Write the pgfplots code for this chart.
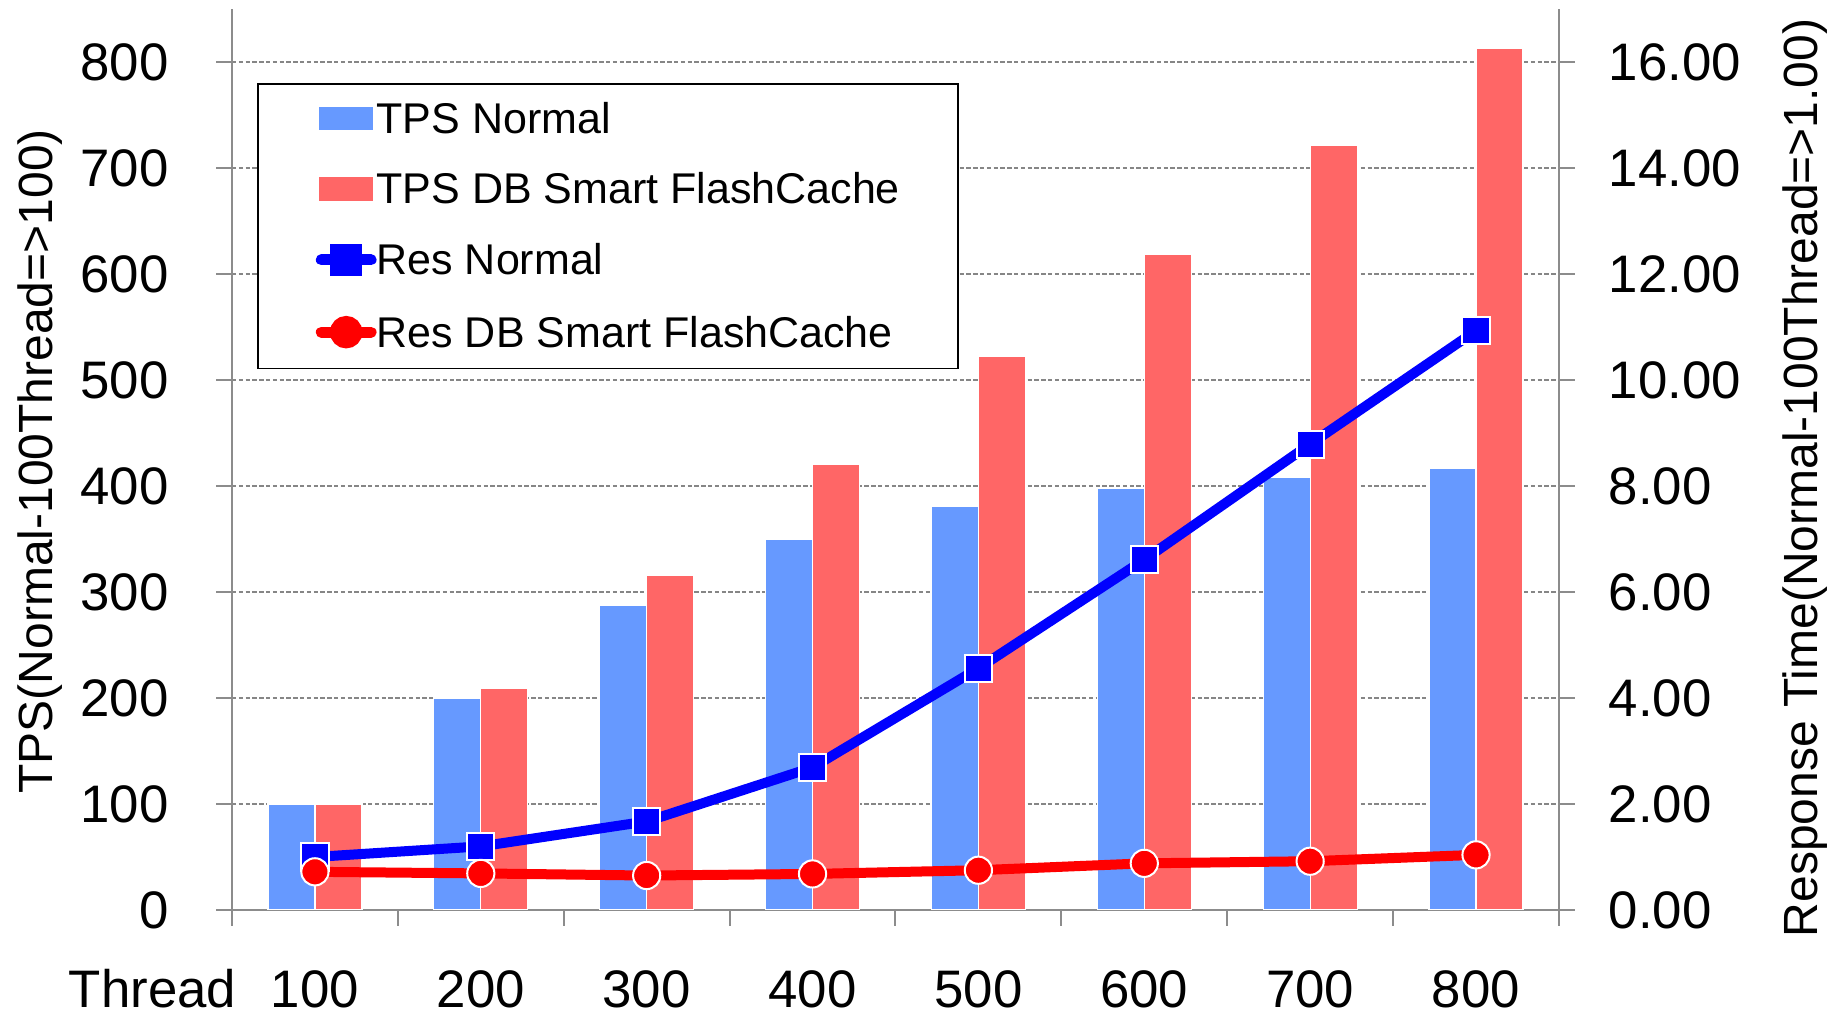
\documentclass[border=0pt]{standalone}
\usepackage{pgfplots}
\pgfplotsset{compat=1.18}
\usepackage{pgfplotstable}
\usepackage{fontspec}
\setmainfont{Liberation Sans}
\definecolor{bluebar}{HTML}{6699FF}
\definecolor{redbar}{HTML}{FF6666}
\definecolor{resblue}{HTML}{0000FF}
\definecolor{resred}{HTML}{FF0000}
\definecolor{axisgray}{HTML}{8C8C8C}
\definecolor{gridgray}{HTML}{868686}

\pgfplotstableread{
x tpsn tpsdb resn resdb
0 100 100 1.00 0.72
1 200 209 1.20 0.69
2 287 316 1.67 0.65
3 350 420 2.69 0.68
4 381 522 4.56 0.75
5 398 618 6.61 0.88
6 408 721 8.79 0.92
7 417 813 10.93 1.04
}\datatable

\pgfplotsset{
  common/.style={
    scale only axis, width=331.75pt, height=225.25pt,
    at={(0pt,0pt)}, anchor=south west,
    xmin=-0.5, xmax=7.5, ymin=0,
    tick align=outside,
    major tick length=3.9pt,
    tick style={draw=axisgray, line width=0.5pt},
    axis line style={draw=axisgray, line width=0.5pt, -},
    tick label style={font=\fontsize{13.2}{15}\selectfont, inner sep=0pt},
    label style={font=\fontsize{12}{14}\selectfont, inner sep=0pt, text depth=0pt},
    /pgf/number format/assume math mode=true,
  }
}
\begin{document}
\begin{tikzpicture}
\useasboundingbox (-58pt,-25.75pt) rectangle (399.75pt,227.5pt);
\begin{axis}[axis x line=bottom, axis y line=left, common,
  ymax=850,
  ytick={0,100,200,300,400,500,600,700,800},
  xtick={-0.5,0.5,1.5,2.5,3.5,4.5,5.5,6.5,7.5},
  xticklabels={100,200,300,400,500,600,700,800,{}},
  x tick label style={anchor=base, xshift=20.725pt, yshift=-20.6pt},
  y tick label style={anchor=east, xshift=-11.75pt},
  ymajorgrids,
  grid style={gridgray, line width=0.35pt, dash pattern=on 1.1pt off 0.6pt},
  ylabel={TPS(Normal-100Thread=>100)},
  ylabel style={at={(axis description cs:-0.1356,0.498)}, anchor=base},
]
\addplot[ybar, bar width=0.2835, bar shift=-0.14175, fill=bluebar, draw=white, line width=0.3pt] table[x=x,y=tpsn]{\datatable};
\addplot[ybar, bar width=0.2835, bar shift=0.14175, fill=redbar, draw=white, line width=0.3pt] table[x=x,y=tpsdb]{\datatable};
\end{axis}
\begin{axis}[axis x line=none, axis y line=right, common,
  ymax=17, clip=false,
  xtick=\empty,
  ytick={0,2,4,6,8,10,12,14,16},
  yticklabel style={anchor=west, xshift=8.35pt, /pgf/number format/.cd, fixed, fixed zerofill, precision=2},
  ylabel={Response Time(Normal-100Thread=>1.00)},
  ylabel style={at={(axis description cs:1.1952,0.4795)}, anchor=base},
  legend style={at={(0.01884,0.9179)}, anchor=north west, draw=black, line width=0.4pt, fill=white,
    inner xsep=14.5pt, inner ysep=5pt, row sep=10.05pt, column sep=0pt,
    font=\fontsize{10.75}{12}\selectfont,
    nodes={inner sep=0pt, text height=7.5pt, text depth=0pt, anchor=west}},
  legend cell align=left,
]
\addlegendimage{legend image code/.code={\fill[bluebar] (1pt,-2.7pt) rectangle (14pt,2.7pt);}}
\addlegendentry{TPS Normal}
\addlegendimage{legend image code/.code={\fill[redbar] (1pt,-2.7pt) rectangle (14pt,2.7pt);}}
\addlegendentry{TPS DB Smart FlashCache}
\addplot[resblue, line width=2.5pt, mark=square*, mark size=3.4pt,
  mark options={fill=resblue, draw=white, line width=0.5pt},
  legend image code/.code={\draw[resblue, line width=2.75pt, line cap=round] (1.4pt,0pt) -- (13.85pt,0pt);
    \fill[resblue] (4.925pt,-2.7pt) rectangle (10.325pt,2.7pt);}]
  table[x=x,y=resn]{\datatable};
\addlegendentry{Res Normal}
\addplot[resred, line width=2.5pt, mark=*, mark size=3.4pt,
  mark options={fill=resred, draw=white, line width=0.5pt},
  legend image code/.code={\draw[resred, line width=2.75pt, line cap=round] (1.4pt,0pt) -- (13.85pt,0pt);
    \fill[resred] (7.625pt,0pt) circle (2.8pt);}]
  table[x=x,y=resdb]{\datatable};
\addlegendentry{Res DB Smart FlashCache}
\end{axis}
\node[anchor=base east, inner sep=0pt, font=\fontsize{13.2}{15}\selectfont] at (1.25pt,-24.5pt) {Thread};
\end{tikzpicture}
\end{document}
